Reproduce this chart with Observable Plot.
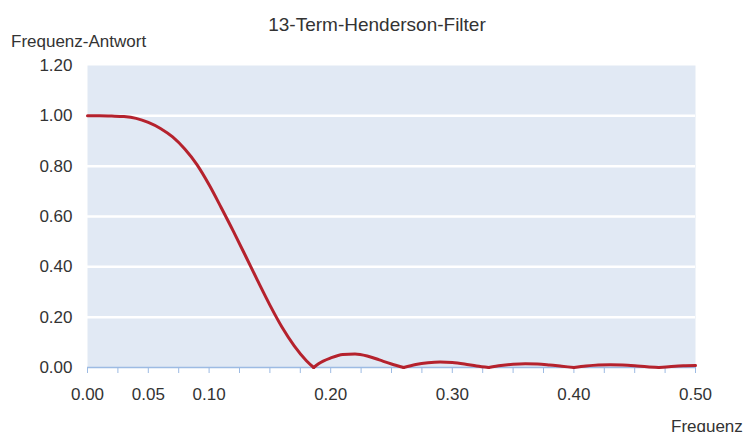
<!DOCTYPE html>
<html><head><meta charset="utf-8">
<script src="https://cdn.jsdelivr.net/npm/d3@7"></script>
<script src="https://cdn.jsdelivr.net/npm/@observablehq/plot@0.6"></script>
<style>
body{margin:0;background:#fff;}
#wrap{width:744px;height:432px;overflow:hidden;}
</style></head><body><div id="wrap"></div>
<script>
const title = "13-Term-Henderson-Filter";
const yLabel = "Frequenz-Antwort";
const xLabel = "Frequenz";

const freq = [0.00,0.01,0.02,0.03,0.04,0.05,0.06,0.07,0.08,0.09,
  0.10,0.11,0.12,0.13,0.14,0.15,0.16,0.17,0.18,0.186,0.19,
  0.20,0.21,0.22,0.23,0.24,0.25,0.26,0.27,0.28,0.29,
  0.30,0.31,0.32,0.33,0.34,0.35,0.36,0.37,0.38,0.39,
  0.40,0.41,0.42,0.43,0.44,0.45,0.46,0.47,0.48,0.49,0.50];
const gain = [1.000,1.000,0.999,0.997,0.990,0.974,0.950,0.916,0.868,0.806,
  0.726,0.635,0.541,0.443,0.344,0.248,0.160,0.086,0.027,0.000,0.015,
  0.038,0.052,0.054,0.046,0.030,0.014,0.000,0.012,0.019,0.022,
  0.020,0.014,0.006,0.000,0.008,0.013,0.015,0.014,0.010,0.005,
  0.000,0.006,0.010,0.011,0.010,0.007,0.003,0.000,0.004,0.007,0.008];

const xTickPos = [0,0.025,0.05,0.075,0.1,0.125,0.15,0.175,0.2,0.225,0.25,0.275,0.3,0.325,0.35,0.375,0.4,0.425,0.45,0.475,0.5];
const xTickLabeled = ["0.00","0.05","0.10","0.20","0.30","0.40","0.50"];
const yTicks = [0,0.2,0.4,0.6,0.8,1.0,1.2];

// split the curve into lobes at its zeros so each cusp stays sharp
const data = [];
let seg = 0;
freq.forEach((f, i) => {
  data.push({f, v: gain[i], seg});
  if (gain[i] === 0 && i > 0) { seg++; data.push({f, v: gain[i], seg}); }
});
const font = "'Liberation Sans', Arial, sans-serif";

const chart = Plot.plot({
  width: 744, height: 432,
  marginLeft: 87, marginRight: 49, marginTop: 65, marginBottom: 65,
  style: {fontFamily: font, fontSize: "17px", color: "#333", background: "white", overflow: "visible"},
  x: {domain: [0, 0.5]},
  y: {domain: [0, 1.2]},
  marks: [
    Plot.frame({fill: "#e1e9f4", stroke: null}),
    Plot.gridY(yTicks.filter(d => d > 0 && d < 1.2), {stroke: "white", strokeWidth: 2.5, strokeOpacity: 1}),
    Plot.axisY(yTicks, {tickSize: 0, tickPadding: 15, tickFormat: d => d.toFixed(2), label: null, fontSize: 17}),
    Plot.ruleY([0], {stroke: "#9dbbe3", strokeWidth: 1.5}),
    Plot.axisX(xTickPos, {tickSize: 6, stroke: "#9dbbe3", tickPadding: 14, fontSize: 17,
      tickFormat: d => xTickLabeled.includes(d.toFixed(2)) ? d.toFixed(2) : "", label: null}),
    Plot.line(data, {x: "f", y: "v", z: "seg", stroke: "#b5222d", strokeWidth: 3, curve: "monotone-x", strokeLinejoin: "round"})
  ]
});
document.getElementById("wrap").appendChild(chart);

const svg = d3.select(chart);
function addText(t, x, y, anchor, size) {
  svg.append("text").attr("x", x).attr("y", y).attr("text-anchor", anchor)
    .attr("font-family", font).attr("font-size", size).attr("fill", "#333").text(t);
}
addText(title, 377, 31, "middle", 19);
addText(yLabel, 11, 47, "start", 17);
addText(xLabel, 671, 432, "start", 17);
</script>
</body></html>
